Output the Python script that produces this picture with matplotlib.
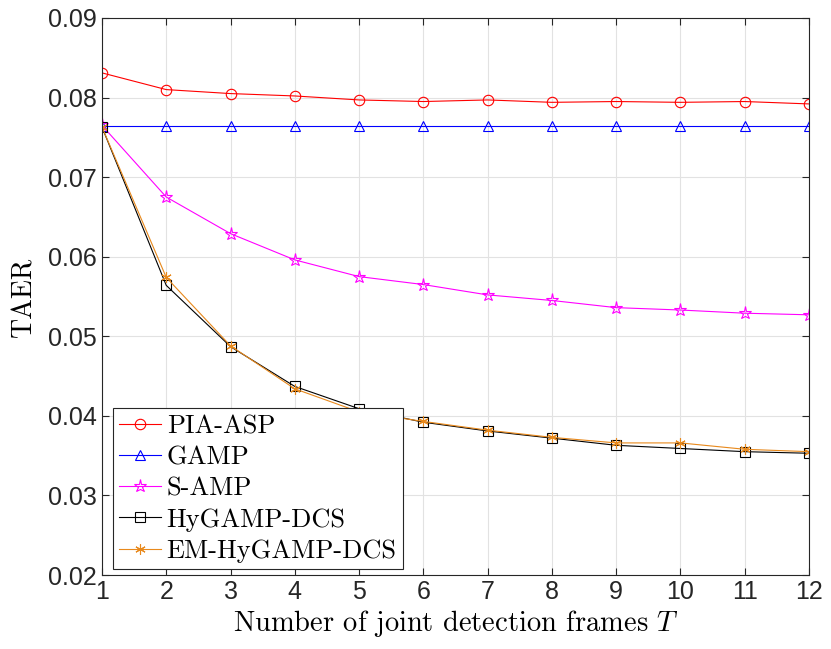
import numpy as np
import matplotlib
matplotlib.use("Agg")
import matplotlib.pyplot as plt

plt.rcParams['mathtext.fontset'] = 'cm'

frames = [1, 2, 3, 4, 5, 6, 7, 8, 9, 10, 11, 12]
pia_asp = [0.0831, 0.0810, 0.0805, 0.0802, 0.0797, 0.0795, 0.0797, 0.0794, 0.0795, 0.0794, 0.0795, 0.0792]
gamp = [0.0764] * 12
s_amp = [0.0765, 0.0675, 0.0629, 0.0596, 0.0575, 0.0565, 0.0552, 0.0545, 0.0536, 0.0533, 0.0529, 0.0527]
hygamp_dcs = [0.0763, 0.0564, 0.0487, 0.0437, 0.0409, 0.0392, 0.0381, 0.0372, 0.0363, 0.0359, 0.0355, 0.0353]
em_hygamp_dcs = [0.0763, 0.0574, 0.0488, 0.0434, 0.0405, 0.0393, 0.0382, 0.0373, 0.0366, 0.0366, 0.0358, 0.0355]

fig = plt.figure(figsize=(8.31, 6.49), dpi=100)
ax = fig.add_axes([0.1227, 0.114, 0.8508, 0.8583])

lw = 0.8
ax.plot(frames, pia_asp, color='#ff0000', marker='o', mfc='none', ms=7.5, lw=lw, mew=0.8, label='PIA-ASP')
ax.plot(frames, gamp, color='#0000ff', marker='^', mfc='none', ms=7.5, lw=lw, mew=0.8, label='GAMP')
ax.plot(frames, s_amp, color='#ff00ff', marker='*', mfc='none', ms=9.5, lw=lw, mew=0.8, label='S-AMP')
ax.plot(frames, hygamp_dcs, color='black', marker='s', mfc='none', ms=6.5, lw=lw, mew=0.8, label='HyGAMP-DCS')
ax.plot(frames, em_hygamp_dcs, color='#e8891c', marker=(6, 2, 0), ms=7.5, lw=lw, mew=0.8, label='EM-HyGAMP-DCS')

ax.set_xlim(1, 12)
ax.set_ylim(0.02, 0.09)
ax.set_xticks(frames)
ax.set_yticks(np.arange(0.02, 0.0901, 0.01))
ax.set_yticklabels(['0.02', '0.03', '0.04', '0.05', '0.06', '0.07', '0.08', '0.09'])
ax.grid(True, color='#e2e2e2', lw=0.8)
ax.set_axisbelow(True)
ax.tick_params(direction='in', top=True, right=True, length=5, width=0.8, colors='#262626',
               labelsize=18, labelcolor='#262626')
for lab in ax.get_xticklabels() + ax.get_yticklabels():
    lab.set_family('Liberation Sans')
for s in ax.spines.values():
    s.set_color('#262626')
    s.set_linewidth(0.8)

ax.set_xlabel('Number of joint detection frames $T$', family='cmr10', fontsize=20.5, labelpad=3)
ax.set_ylabel('TAER', family='cmr10', fontsize=20, labelpad=8)

leg = ax.legend(loc='lower left', bbox_to_anchor=(0.015, 0.01), prop={'family': 'cmr10', 'size': 19},
                handlelength=1.6, handletextpad=0.2, borderpad=0.25, labelspacing=0.28,
                borderaxespad=0, fancybox=False, framealpha=1, edgecolor='#262626')
leg.get_frame().set_linewidth(0.8)

fig.savefig('out.png', dpi=100)
